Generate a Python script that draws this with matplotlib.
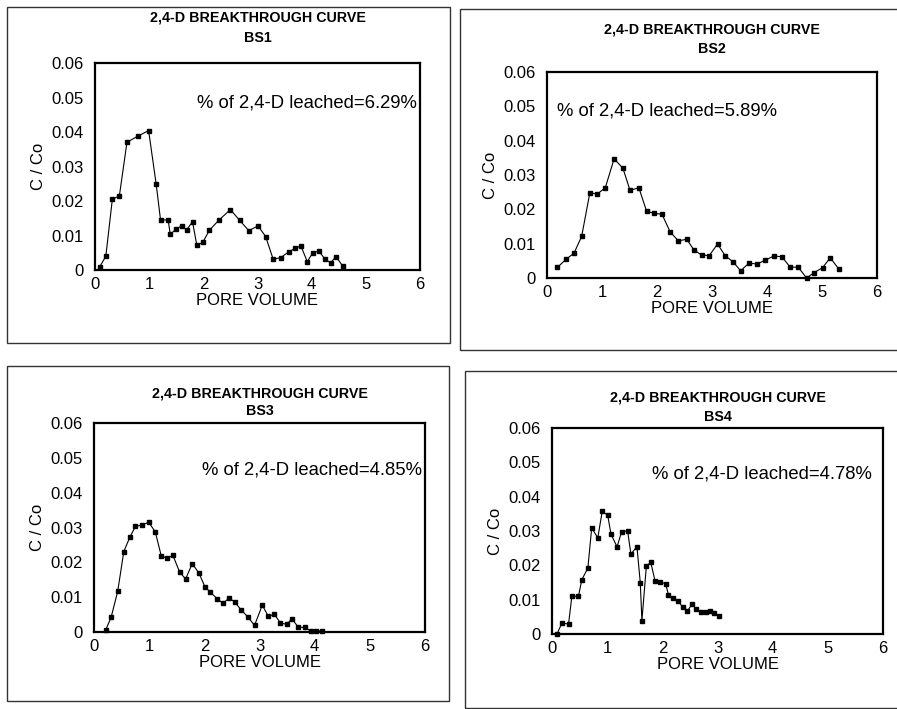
import matplotlib
matplotlib.use("Agg")
import matplotlib.pyplot as plt
from matplotlib.patches import Rectangle

plt.rcParams["font.family"] = ["Liberation Sans", "DejaVu Sans"]

W, H = 897, 709

# pore volume / C/Co
bs1_x = [0.09, 0.20, 0.32, 0.45, 0.59, 0.79, 0.99, 1.13, 1.21, 1.35, 1.39, 1.49,
         1.60, 1.69, 1.80, 1.88, 1.99, 2.11, 2.29, 2.50, 2.67, 2.84, 3.01, 3.15,
         3.29, 3.43, 3.58, 3.70, 3.80, 3.92, 4.02, 4.13, 4.25, 4.35, 4.45, 4.57]
bs1_y = [0.0010, 0.0040, 0.0205, 0.0215, 0.0370, 0.0388, 0.0404, 0.0248, 0.0145,
         0.0145, 0.0103, 0.0118, 0.0128, 0.0116, 0.0140, 0.0072, 0.0080, 0.0115,
         0.0145, 0.0175, 0.0144, 0.0114, 0.0128, 0.0097, 0.0031, 0.0036, 0.0053,
         0.0063, 0.0070, 0.0024, 0.0050, 0.0055, 0.0031, 0.0021, 0.0039, 0.0012]

bs2_x = [0.19, 0.35, 0.49, 0.63, 0.78, 0.91, 1.06, 1.22, 1.38, 1.51, 1.67, 1.81,
         1.95, 2.09, 2.24, 2.39, 2.54, 2.67, 2.81, 2.95, 3.10, 3.24, 3.39, 3.52,
         3.67, 3.82, 3.97, 4.12, 4.27, 4.42, 4.57, 4.72, 4.86, 5.01, 5.15, 5.31]
bs2_y = [0.0031, 0.0055, 0.0072, 0.0121, 0.0249, 0.0244, 0.0263, 0.0347, 0.0320,
         0.0255, 0.0263, 0.0195, 0.0188, 0.0186, 0.0134, 0.0108, 0.0113, 0.0082,
         0.0067, 0.0065, 0.0099, 0.0065, 0.0046, 0.0021, 0.0043, 0.0041, 0.0052,
         0.0064, 0.0062, 0.0032, 0.0031, 0.0000, 0.0016, 0.0030, 0.0059, 0.0025]

bs3_x = [0.21, 0.31, 0.43, 0.54, 0.65, 0.75, 0.87, 0.99, 1.11, 1.22, 1.33, 1.43,
         1.55, 1.66, 1.78, 1.90, 2.01, 2.11, 2.23, 2.34, 2.45, 2.55, 2.67, 2.79,
         2.91, 3.05, 3.16, 3.27, 3.38, 3.49, 3.59, 3.70, 3.82, 3.93, 4.03, 4.13]
bs3_y = [0.0005, 0.0042, 0.0117, 0.0231, 0.0272, 0.0303, 0.0307, 0.0315, 0.0288,
         0.0218, 0.0212, 0.0220, 0.0173, 0.0152, 0.0196, 0.0170, 0.0130, 0.0114,
         0.0096, 0.0082, 0.0098, 0.0086, 0.0063, 0.0043, 0.0019, 0.0077, 0.0045,
         0.0051, 0.0026, 0.0022, 0.0038, 0.0014, 0.0013, 0.0003, 0.0002, 0.0004]

bs4_x = [0.09, 0.18, 0.30, 0.36, 0.48, 0.54, 0.65, 0.72, 0.83, 0.91, 1.01, 1.07,
         1.18, 1.26, 1.37, 1.43, 1.54, 1.60, 1.63, 1.71, 1.79, 1.87, 1.96, 2.06,
         2.11, 2.20, 2.29, 2.37, 2.45, 2.54, 2.61, 2.70, 2.79, 2.87, 2.94, 3.02]
bs4_y = [0.0000, 0.0032, 0.0029, 0.0110, 0.0110, 0.0158, 0.0192, 0.0309, 0.0280,
         0.0357, 0.0346, 0.0290, 0.0254, 0.0297, 0.0301, 0.0233, 0.0254, 0.0150,
         0.0039, 0.0197, 0.0209, 0.0153, 0.0152, 0.0146, 0.0115, 0.0105, 0.0095,
         0.0078, 0.0066, 0.0087, 0.0073, 0.0063, 0.0064, 0.0066, 0.0061, 0.0053]

names = ["BS1", "BS2", "BS3", "BS4"]
leached = ["6.29%", "5.89%", "4.85%", "4.78%"]
x_ticks = [0, 1, 2, 3, 4, 5, 6]
y_ticks = [0, 0.01, 0.02, 0.03, 0.04, 0.05, 0.06]
y_labels = ["0", "0.01", "0.02", "0.03", "0.04", "0.05", "0.06"]

fig = plt.figure(figsize=(W / 100, H / 100), dpi=100)


def frac(x, y):
    return x / W, 1 - y / H


# outer frames round each panel (pixels: left, top, right, bottom)
frames = [(7, 7, 450, 343), (460, 9, 905, 350), (7, 366, 449, 701), (465, 371, 905, 708)]
for l, t, r, b in frames:
    fx, fy = frac(l, b)
    fig.add_artist(Rectangle((fx, fy), (r - l) / W, (b - t) / H, fill=False,
                             lw=1.0, ec="#333333", transform=fig.transFigure))

# plot areas in pixels: left, right, top, bottom
boxes = [(95, 420, 63, 270), (547, 877, 72, 278), (94, 425, 423, 632), (552, 883, 428, 634)]
title_y = [(18, 38), (30, 49), (393, 411), (398, 417)]
note_pos = [(0.99, 0.807, "right"), (0.03, 0.81, "left"),
            (0.99, 0.775, "right"), (0.967, 0.777, "right")]
series = [(bs1_x, bs1_y), (bs2_x, bs2_y), (bs3_x, bs3_y), (bs4_x, bs4_y)]

for i, (l, r, t, b) in enumerate(boxes):
    ax = fig.add_axes([l / W, 1 - b / H, (r - l) / W, (b - t) / H])
    xs, ys = series[i]
    ax.plot(xs, ys, color="black", lw=0.8, marker="s", ms=3.5,
            mfc="black", mec="black", clip_on=False)
    ax.set_xlim(0, 6)
    ax.set_ylim(0, 0.06)
    ax.set_xticks(x_ticks)
    ax.set_yticks(y_ticks)
    ax.set_yticklabels(y_labels)
    ax.tick_params(labelsize=12, length=0, pad=8)
    ax.tick_params(axis="x", pad=5)
    for s in ax.spines.values():
        s.set_linewidth(1.6)
    ax.set_xlabel("PORE VOLUME", fontsize=12, labelpad=1)
    ax.set_ylabel("C / Co", fontsize=12, labelpad=4)

    nx, ny, ha = note_pos[i]
    ax.text(nx, ny, "% of 2,4-D leached=" + leached[i], transform=ax.transAxes,
            ha=ha, va="center", fontsize=13.3)

    cx = (l + r) / 2 / W
    fig.text(cx, 1 - title_y[i][0] / H, "2,4-D BREAKTHROUGH CURVE", ha="center",
             va="center", fontsize=10.3, fontweight="bold",
             family=["Liberation Sans Narrow", "Liberation Sans"])
    fig.text(cx, 1 - title_y[i][1] / H, names[i], ha="center", va="center",
             fontsize=10.3, fontweight="bold",
             family=["Liberation Sans Narrow", "Liberation Sans"])

fig.savefig("out.png", dpi=100)
